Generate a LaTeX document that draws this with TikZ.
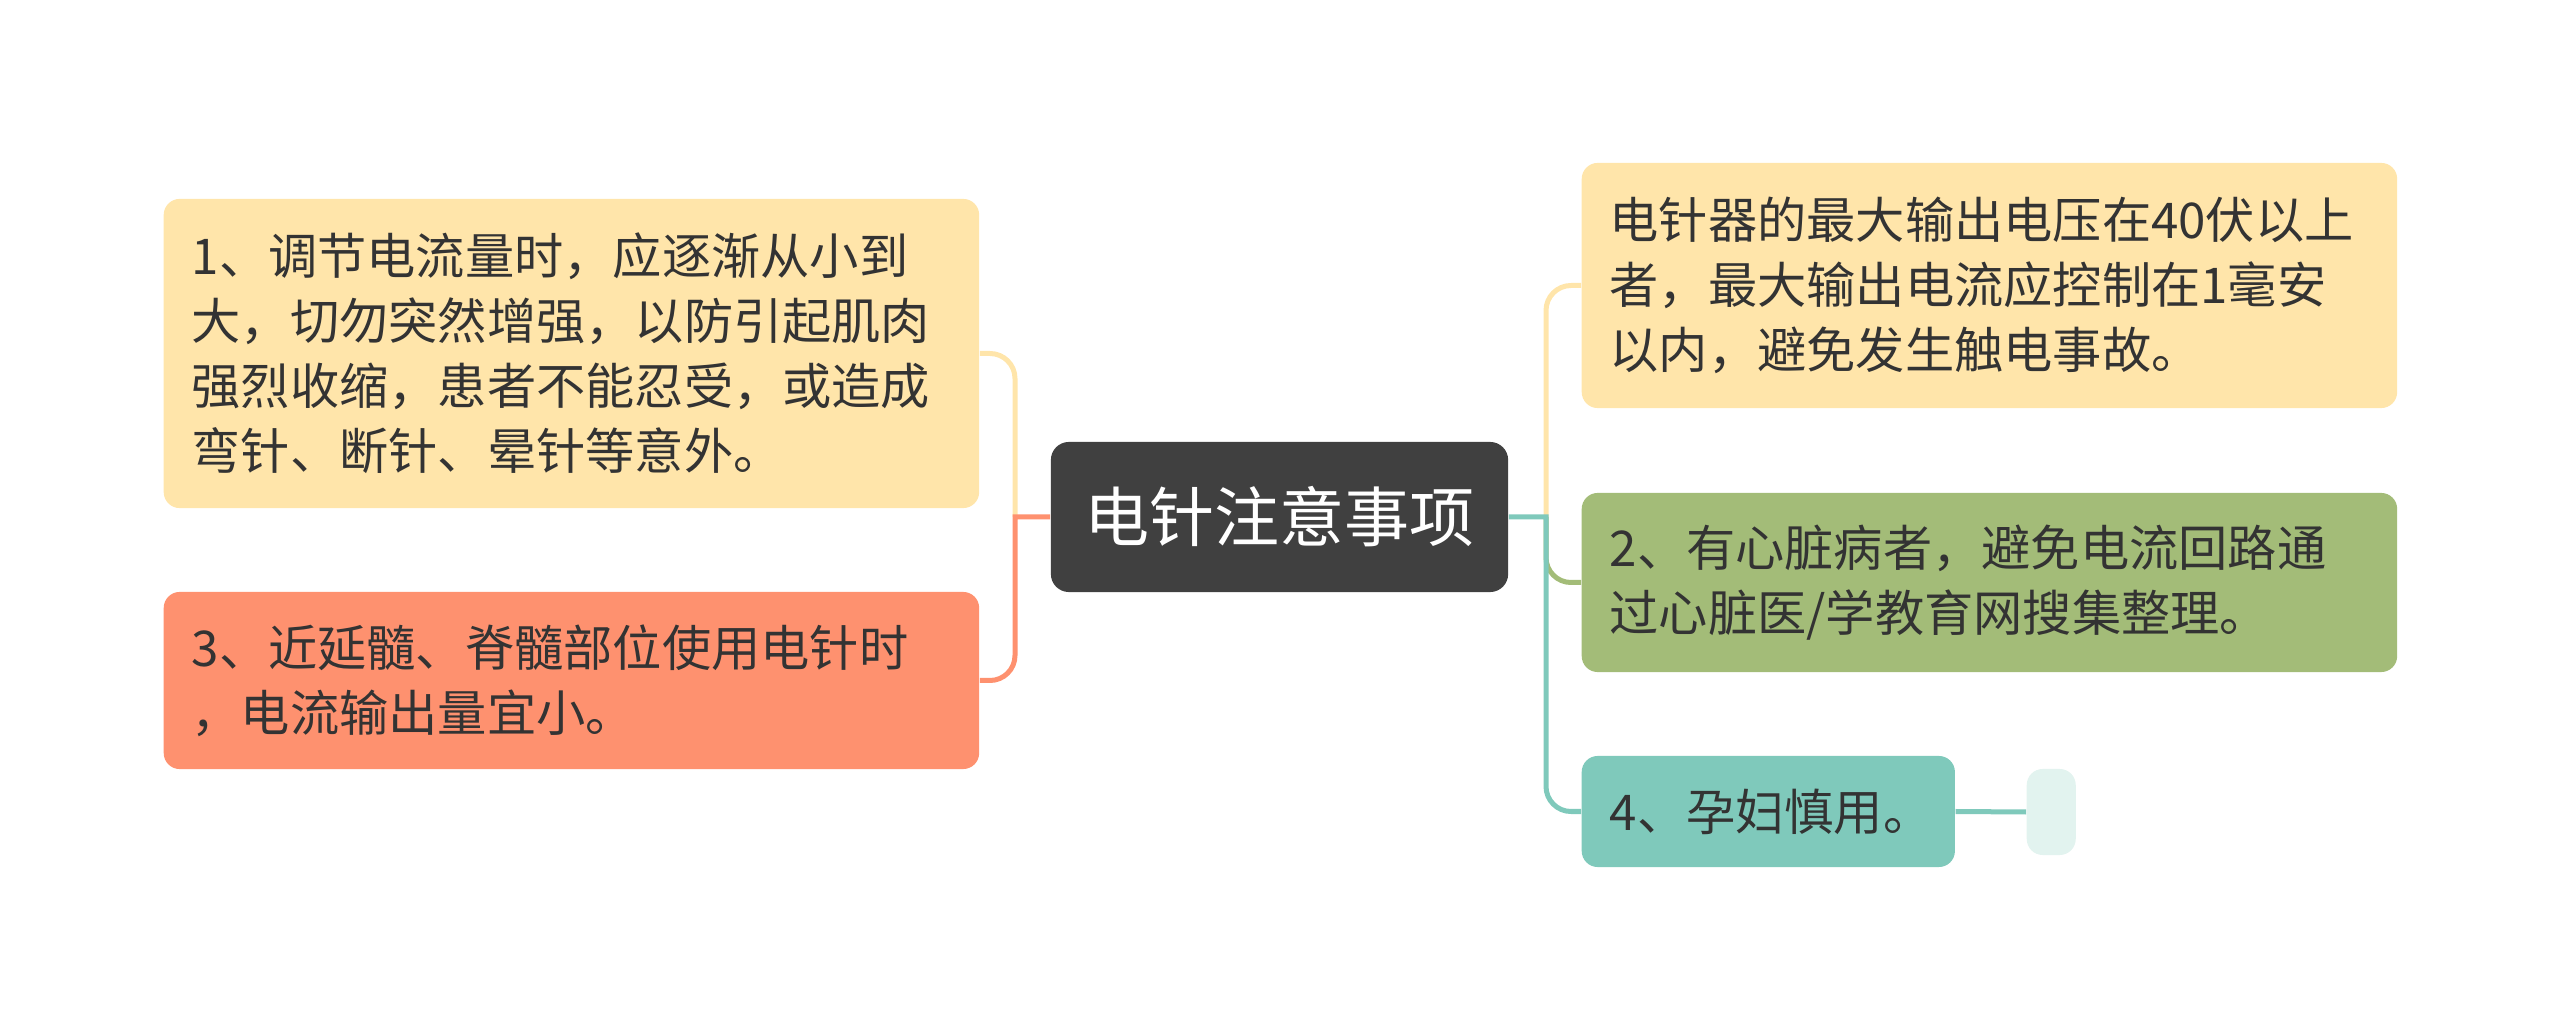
\documentclass[tikz,border=0pt]{standalone}
\usepackage{fontspec}
\newfontfamily\cjk{Noto Sans CJK SC}
\definecolor{txt}{HTML}{333333}
\definecolor{rootfill}{HTML}{404040}
\definecolor{yfill}{HTML}{FFE5AA}
\definecolor{sfill}{HTML}{FE916F}
\definecolor{gfill}{HTML}{A3BC78}
\definecolor{tfill}{HTML}{7FC9BB}
\definecolor{efill}{HTML}{E2F3EF}

\begin{document}
\begin{tikzpicture}[x=0.01cm, y=-0.01cm]

\tikzset{topic/.style = {rounded corners=0.16cm, anchor=west, align=left, inner xsep=0.28cm, inner ysep=0, text=txt, font=\cjk\fontsize{14pt}{18.5pt}\selectfont}}
\tikzset{wide/.style = {topic, text width=7.59cm}}
\tikzset{branch/.style = {line width=0.05cm}}
\useasboundingbox (0,0) rectangle (2560,1034);

% vertices
\node[fill=rootfill, rounded corners=0.18cm, minimum width=4.57cm, minimum height=1.5cm, text=white, font=\cjk\fontsize{18.5pt}{22pt}\selectfont] (root) at (1279.5,517) {电针注意事项};
\node[wide, fill=yfill, minimum height=3.09cm] (l1) at (163,353.5) {1、调节电流量时，应逐渐从小到\\大，切勿突然增强，以防引起肌肉\\强烈收缩，患者不能忍受，或造成\\弯针、断针、晕针等意外。};
\node[wide, fill=sfill, minimum height=1.77cm] (l3) at (163,680.5) {3、近延髓、脊髓部位使用电针时\\，电流输出量宜小。};
\node[wide, fill=yfill, minimum height=2.45cm] (r0) at (1581,285.5) {电针器的最大输出电压在40伏以上\\者，最大输出电流应控制在1毫安\\以内，避免发生触电事故。};
\node[wide, fill=gfill, minimum height=1.79cm] (r2) at (1581,582.5) {2、有心脏病者，避免电流回路通\\过心脏医/学教育网搜集整理。};
\node[topic, fill=tfill, minimum height=1.11cm, text width=3.17cm] (r4) at (1581,811.5) {4、孕妇慎用。};
\node[fill=efill, rounded corners=0.16cm, anchor=west, minimum width=0.49cm, minimum height=0.86cm, inner sep=0] (r4e) at (2026,812) {};

\coordinate (jl) at (1015,517);
\coordinate (jr) at (1546,517);

%edges
\draw[branch, yfill] (jl) [rounded corners=0.25cm] |- (l1.east);
\draw[branch, sfill] (root.west) -- (jl) -- ++(0,50) [rounded corners=0.25cm] |- (l3.east);
\draw[branch, yfill] (jr) [rounded corners=0.25cm] |- (r0.west);
\draw[branch, gfill] (jr) [rounded corners=0.25cm] |- (r2.west);
\draw[branch, tfill] (root.east) -- (jr) -- ++(0,50) [rounded corners=0.25cm] |- (r4.west);
\draw[branch, tfill] (r4.east) -- (r4e.west);

\end{tikzpicture}
\end{document}
